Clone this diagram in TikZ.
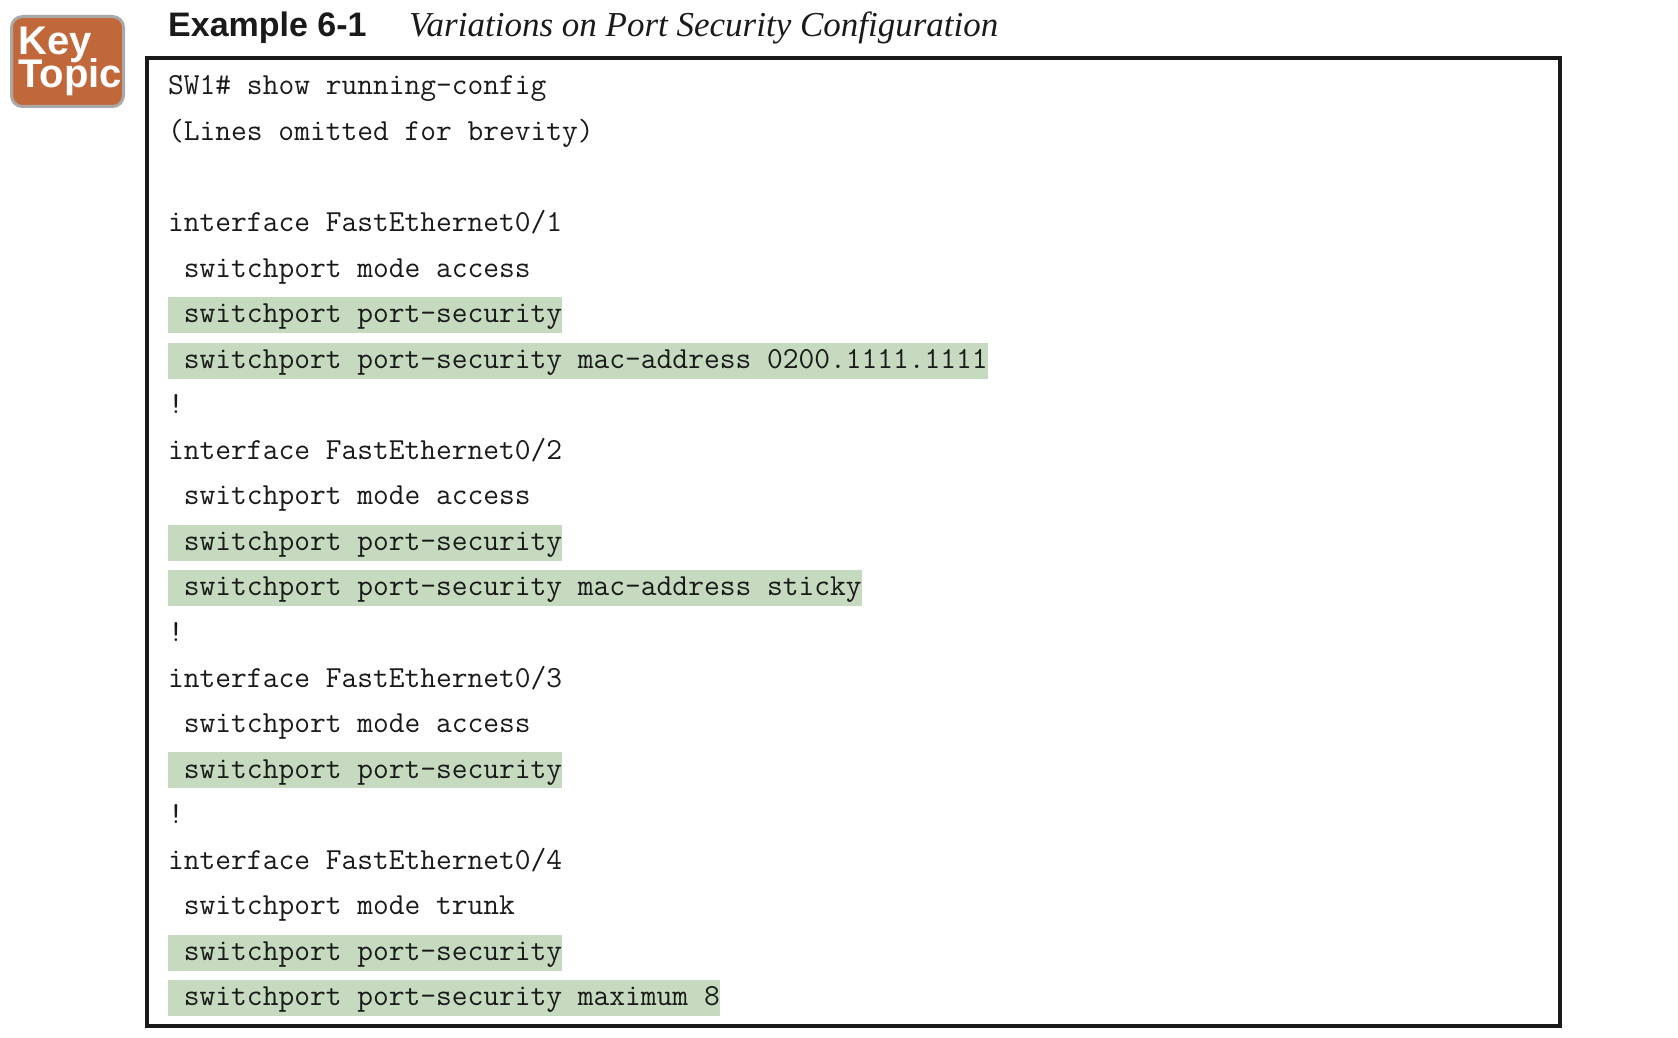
\documentclass[tikz,border=0pt]{standalone}
\usepackage{fontspec}
\setsansfont{Liberation Sans}
\setmainfont{Liberation Serif}
\setmonofont{Latin Modern Mono}
\definecolor{hlgreen}{HTML}{C5DABF}
\definecolor{keyfill}{HTML}{C1683A}
\definecolor{keyline}{HTML}{A9A9A9}
\definecolor{ink}{HTML}{1A1A1A}
\newcommand{\ind}{\phantom{x}}
\tikzset{
  codeline/.style={anchor=base west,inner sep=0pt,text=ink,font=\fontsize{30.6}{32}\selectfont\ttfamily},
  hlline/.style={codeline,fill=hlgreen,text height=25.7pt,text depth=10.3pt},
  frame/.style={draw=ink,line width=4pt,fill=none},
  keybadge/.style={draw=keyline,line width=3pt,fill=keyfill,rounded corners=11pt},
  keytext/.style={anchor=base west,inner sep=0pt,text=white,font=\fontsize{40}{40}\selectfont\sffamily\bfseries},
}
\begin{document}
\begin{tikzpicture}[x=1pt,y=-1pt]
\useasboundingbox (0,0) rectangle (1678,1038);
\draw[keybadge] (11.5,16.5) rectangle (123.5,106.5);
\node[keytext] (key) at (18,55) {Key};
\node[keytext] (topic) at (18,88) {Topic};
\node[anchor=base west,inner sep=0pt,text=ink,font=\fontsize{34}{34}\selectfont\sffamily\bfseries] (exnum) at (168,37) {Example 6-1};
\node[anchor=base west,inner sep=0pt,text=ink,font=\fontsize{35}{35}\selectfont\rmfamily\itshape] (extitle) at (409,37) {Variations on Port Security Configuration};
\draw[frame] (147,58) rectangle (1560,1026);
\node[codeline] (l0) at (168,95) {SW1\# \textbf{show running-config}};
\node[codeline] (l1) at (168,140.5) {(Lines omitted for brevity)};
\node[codeline] (l3) at (168,231.6) {interface FastEthernet0/1};
\node[codeline] (l4) at (168,277.2) {\ind switchport mode access};
\node[hlline] (l5) at (168,322.7) {\ind switchport port-security};
\node[hlline] (l6) at (168,368.2) {\ind switchport port-security mac-address 0200.1111.1111};
\node[codeline] (l7) at (168,413.8) {!};
\node[codeline] (l8) at (168,459.3) {interface FastEthernet0/2};
\node[codeline] (l9) at (168,504.8) {\ind switchport mode access};
\node[hlline] (l10) at (168,550.4) {\ind switchport port-security};
\node[hlline] (l11) at (168,595.9) {\ind switchport port-security mac-address sticky};
\node[codeline] (l12) at (168,641.5) {!};
\node[codeline] (l13) at (168,687) {interface FastEthernet0/3};
\node[codeline] (l14) at (168,732.5) {\ind switchport mode access};
\node[hlline] (l15) at (168,778.1) {\ind switchport port-security};
\node[codeline] (l16) at (168,823.6) {!};
\node[codeline] (l17) at (168,869.1) {interface FastEthernet0/4};
\node[codeline] (l18) at (168,914.7) {\ind switchport mode trunk};
\node[hlline] (l19) at (168,960.2) {\ind switchport port-security};
\node[hlline] (l20) at (168,1005.8) {\ind switchport port-security maximum 8};
\end{tikzpicture}
\end{document}
